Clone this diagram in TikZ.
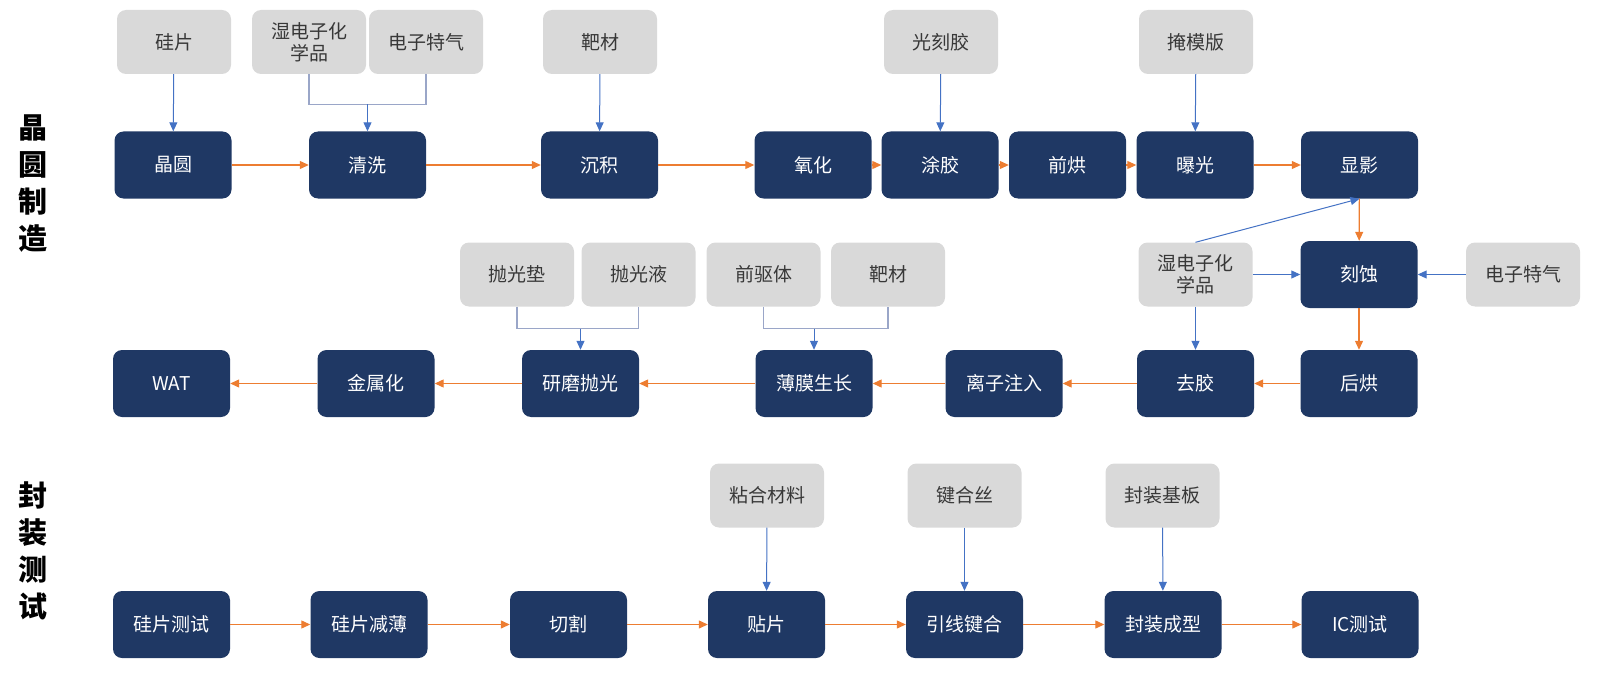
\documentclass[tikz,border=0pt]{standalone}
\usepackage{fontspec}
\setmainfont{Noto Sans CJK SC}
\usepackage{xcolor}
\usepackage{tikz}
\usetikzlibrary{arrows.meta,calc}

\definecolor{navy}{HTML}{1F3864}
\definecolor{matgray}{HTML}{D9D9D9}
\definecolor{flow}{HTML}{ED7D31}
\definecolor{feed}{HTML}{4472C4}
\definecolor{brack}{HTML}{9AA6C8}

\tikzset{
  proc/.style={rectangle, rounded corners=9pt, fill=navy, text=white,
    minimum width=117pt, minimum height=67pt, inner sep=0pt,
    font=\fontsize{19}{22}\selectfont},
  mat/.style={rectangle, rounded corners=9pt, fill=matgray, text=black!78,
    minimum width=114pt, minimum height=64pt, inner sep=0pt, align=center,
    font=\fontsize{19}{22}\selectfont},
  flowarrow/.style={draw=flow, line width=1.2pt, -{Triangle[length=9pt,width=8pt]}},
  feedarrow/.style={draw=feed, line width=1pt, -{Triangle[length=9pt,width=8pt]}},
  bracket/.style={draw=brack, line width=1.2pt},
  stage/.style={align=center, font=\fontsize{29}{37}\selectfont\bfseries},
}

\begin{document}
\begin{tikzpicture}[x=1pt, y=-1pt]
\useasboundingbox (0,0) rectangle (1617,682);
% stage labels
\node[stage] (fablabel) at (33,184) {晶\\圆\\制\\造};
\node[stage] (pkglabel) at (33,551) {封\\装\\测\\试};

% wafer fab, first row
\node[proc] (wafer)   at (173,165)    {晶圆};
\node[proc] (clean)   at (367.5,165)  {清洗};
\node[proc] (depo)    at (599.5,165)  {沉积};
\node[proc] (oxid)    at (813,165)    {氧化};
\node[proc] (coat)    at (940,165)    {涂胶};
\node[proc] (prebake) at (1067.5,165) {前烘};
\node[proc] (expose)  at (1195,165)   {曝光};
\node[proc] (develop) at (1359.5,165) {显影};

\node[mat] (siwafer) at (174,42)  {硅片};
\node[mat] (wetchem) at (309,42)  {湿电子化\\学品};
\node[mat] (gasA)    at (426,42)  {电子特气};
\node[mat] (target)  at (600,42)  {靶材};
\node[mat] (resist)  at (941,42)  {光刻胶};
\node[mat] (mask)    at (1196,42) {掩模版};

% wafer fab, second row (right to left)
\node[proc] (etch)     at (1359,274.5)   {刻蚀};
\node[proc] (postbake) at (1359,383.5)   {后烘};
\node[proc] (strip)    at (1195.5,383.5) {去胶};
\node[proc] (implant)  at (1004,383.5)   {离子注入};
\node[proc] (film)     at (814,383.5)    {薄膜生长};
\node[proc] (cmp)      at (580.5,383.5)  {研磨抛光};
\node[proc] (metal)    at (376,383.5)    {金属化};
\node[proc] (wat)      at (171.5,383.5)  {WAT};

\node[mat] (pad)       at (517,274.5)    {抛光垫};
\node[mat] (slurry)    at (638.5,274.5)  {抛光液};
\node[mat] (precursor) at (763.5,274.5)  {前驱体};
\node[mat] (targetB)   at (888,274.5)    {靶材};
\node[mat] (wetchemB)  at (1195.5,274.5) {湿电子化\\学品};
\node[mat] (gasB)      at (1523,274.5)   {电子特气};

% packaging and test
\node[proc] (sitest) at (171.5,624.5) {硅片测试};
\node[proc] (thin)   at (369,624.5)   {硅片减薄};
\node[proc] (dice)   at (568.5,624.5) {切割};
\node[proc] (attach) at (766.5,624.5) {贴片};
\node[proc] (bond)   at (964.5,624.5) {引线键合};
\node[proc] (mold)   at (1163,624.5)  {封装成型};
\node[proc] (ictest) at (1360,624.5)  {IC测试};

\node[mat] (adhesive)  at (767,495.5)    {粘合材料};
\node[mat] (wire)      at (964.5,495.5)  {键合丝};
\node[mat] (substrate) at (1162.5,495.5) {封装基板};

% process flow
\draw[flowarrow] (wafer) -- (clean);
\draw[flowarrow] (clean) -- (depo);
\draw[flowarrow] (depo) -- (oxid);
\draw[flowarrow] (oxid) -- (coat);
\draw[flowarrow] (coat) -- (prebake);
\draw[flowarrow] (prebake) -- (expose);
\draw[flowarrow] (expose) -- (develop);
\draw[flowarrow] (develop) -- (etch);
\draw[flowarrow] (etch) -- (postbake);
\draw[flowarrow] (postbake) -- (strip);
\draw[flowarrow] (strip) -- (implant);
\draw[flowarrow] (implant) -- (film);
\draw[flowarrow] (film) -- (cmp);
\draw[flowarrow] (cmp) -- (metal);
\draw[flowarrow] (metal) -- (wat);
\draw[flowarrow] (sitest) -- (thin);
\draw[flowarrow] (thin) -- (dice);
\draw[flowarrow] (dice) -- (attach);
\draw[flowarrow] (attach) -- (bond);
\draw[flowarrow] (bond) -- (mold);
\draw[flowarrow] (mold) -- (ictest);

% materials in
\draw[feedarrow] (siwafer) -- (wafer);
\draw[feedarrow] (target) -- (depo);
\draw[feedarrow] (resist) -- (coat);
\draw[feedarrow] (mask) -- (expose);
\draw[feedarrow] (wetchemB.north) -- (develop.south);
\draw[feedarrow] (wetchemB) -- (etch);
\draw[feedarrow] (gasB) -- (etch);
\draw[feedarrow] (wetchemB) -- (strip);
\draw[feedarrow] (adhesive) -- (attach);
\draw[feedarrow] (wire) -- (bond);
\draw[feedarrow] (substrate) -- (mold);

\draw[bracket] (wetchem.south) -- ++(0,30) -| (gasA.south);
\coordinate (cleanjoin) at ($(wetchem.south)+(0,30)$);
\draw[feedarrow] (clean.north |- cleanjoin) -- (clean.north);
\draw[bracket] (pad.south) -- ++(0,22) -| (slurry.south);
\coordinate (cmpjoin) at ($(pad.south)+(0,22)$);
\draw[feedarrow] (cmp.north |- cmpjoin) -- (cmp.north);
\draw[bracket] (precursor.south) -- ++(0,22) -| (targetB.south);
\coordinate (filmjoin) at ($(precursor.south)+(0,22)$);
\draw[feedarrow] (film.north |- filmjoin) -- (film.north);
\end{tikzpicture}
\end{document}
